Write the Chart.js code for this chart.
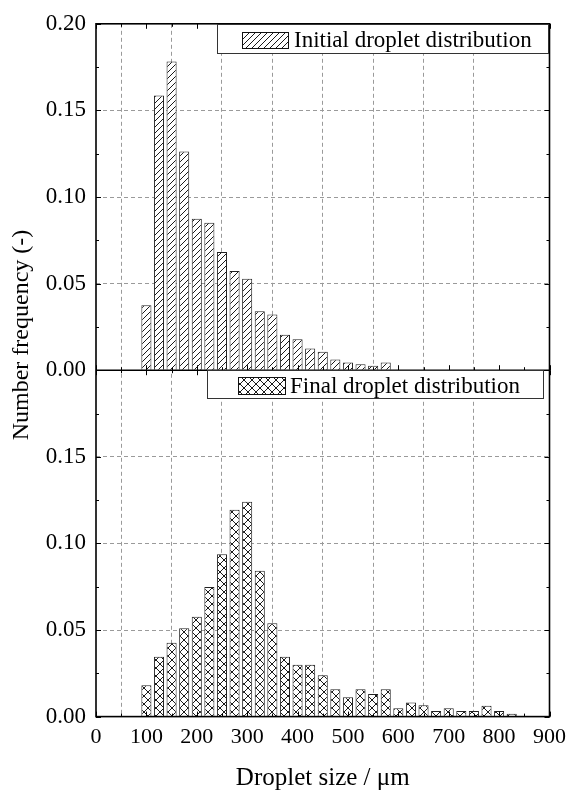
<!DOCTYPE html>
<html>
<head>
<meta charset="utf-8">
<script src="https://cdn.jsdelivr.net/npm/chart.js@4"></script>
<style>
  html, body { margin: 0; padding: 0; background: #fff; }
  #wrap { width: 573px; height: 796px; }
</style>
</head>
<body>
<div id="wrap"><canvas id="c" width="573" height="796"></canvas></div>
<script>
// ---- data ----
const initialSizes = [100, 125, 150, 175, 200, 225, 250, 275, 300, 325,
                      350, 375, 400, 425, 450, 475, 500, 525, 550, 575];
const initialFreq  = [0.0375, 0.1586, 0.1782, 0.1263, 0.0874, 0.0851, 0.0682, 0.0573, 0.0528, 0.0340,
                      0.0321, 0.0205, 0.0179, 0.0125, 0.0106, 0.0062, 0.0044, 0.0035, 0.0025, 0.0044];

const finalSizes = [100, 125, 150, 175, 200, 225, 250, 275, 300, 325,
                    350, 375, 400, 425, 450, 475, 500, 525, 550, 575,
                    600, 625, 650, 675, 700, 725, 750, 775, 800, 825];
const finalFreq  = [0.0181, 0.0346, 0.0427, 0.0510, 0.0577, 0.0748, 0.0938, 0.1194, 0.1240, 0.0842,
                    0.0539, 0.0346, 0.0300, 0.0300, 0.0239, 0.0158, 0.0111, 0.0158, 0.0130, 0.0158,
                    0.0048, 0.0081, 0.0065, 0.0033, 0.0048, 0.0033, 0.0033, 0.0063, 0.0033, 0.0016];

const xTickValues = [0, 100, 200, 300, 400, 500, 600, 700, 800, 900];
const yTickValues = [0.00, 0.05, 0.10, 0.15, 0.20];

const labelInitial = 'Initial droplet distribution';
const labelFinal = 'Final droplet distribution';
const xTitle = 'Droplet size / \u03bcm';
const yTitle = 'Number frequency (-)';

// ---- styling ----
const FONT = 'Liberation Serif, Times New Roman, serif';
const canvas = document.getElementById('c');
const ctx0 = canvas.getContext('2d');

function makePattern(kind) {
  const s = kind === 'diag' ? 6 : 8;
  const c = document.createElement('canvas');
  c.width = s; c.height = s;
  const g = c.getContext('2d');
  g.fillStyle = '#fff';
  g.fillRect(0, 0, s, s);
  g.strokeStyle = '#000';
  g.lineWidth = 0.9;
  g.beginPath();
  g.moveTo(-1, s + 1); g.lineTo(s + 1, -1);
  g.moveTo(-1, 1); g.lineTo(1, -1);
  g.moveTo(s - 1, s + 1); g.lineTo(s + 1, s - 1);
  if (kind === 'cross') {
    g.moveTo(-1, -1); g.lineTo(s + 1, s + 1);
    g.moveTo(s - 1, -1); g.lineTo(s + 1, 1);
    g.moveTo(-1, s - 1); g.lineTo(1, s + 1);
  }
  g.stroke();
  return ctx0.createPattern(c, 'repeat');
}
const patDiag = makePattern('diag');
const patCross = makePattern('cross');

const gridGrey = '#9a9a9a';
function yGridColor(c) {
  const v = c.tick ? c.tick.value : 0;
  return (Math.abs(v) < 1e-9 || Math.abs(v - 0.2) < 1e-9) ? 'rgba(0,0,0,0)' : gridGrey;
}
function xGridColor(c) {
  const v = c.tick ? c.tick.value : 0;
  return (v <= 0 || v >= 900) ? 'rgba(0,0,0,0)' : gridGrey;
}

const decor = {
  id: 'decor',
  beforeDraw(chart) {
    const ctx = chart.ctx;
    ctx.save();
    ctx.fillStyle = '#fff';
    ctx.fillRect(0, 0, chart.width, chart.height);
    ctx.restore();
  },
  afterDatasetsDraw(chart) {
    const ctx = chart.ctx;
    const {left, right, top, bottom} = chart.chartArea;
    const x = chart.scales.x, yT = chart.scales.yTop, yB = chart.scales.yBot;
    const mid = yT.getPixelForValue(0);
    ctx.save();
    // ticks (inward)
    ctx.strokeStyle = '#000';
    ctx.lineWidth = 1;
    ctx.beginPath();
    for (let i = 0; i < xTickValues.length; i++) {
      const v = xTickValues[i];
      const px = Math.round(x.getPixelForValue(v)) + 0.5;
      [[top, 1], [mid, -1], [mid, 1], [bottom, -1]].forEach(([yy, d]) => {
        ctx.moveTo(px, yy); ctx.lineTo(px, yy + d * 5);
      });
      if (i < xTickValues.length - 1) {
        const pm = Math.round(x.getPixelForValue((v + xTickValues[i + 1]) / 2)) + 0.5;
        [[top, 1], [mid, -1], [mid, 1], [bottom, -1]].forEach(([yy, d]) => {
          ctx.moveTo(pm, yy); ctx.lineTo(pm, yy + d * 3);
        });
      }
    }
    [yT, yB].forEach(sc => {
      for (let i = 0; i < yTickValues.length; i++) {
        const v = yTickValues[i];
        const py = Math.round(sc.getPixelForValue(v)) + 0.5;
        ctx.moveTo(left, py); ctx.lineTo(left + 5, py);
        ctx.moveTo(right, py); ctx.lineTo(right - 5, py);
        if (i < yTickValues.length - 1) {
          const pm = Math.round(sc.getPixelForValue((v + yTickValues[i + 1]) / 2)) + 0.5;
          ctx.moveTo(left, pm); ctx.lineTo(left + 3, pm);
          ctx.moveTo(right, pm); ctx.lineTo(right - 3, pm);
        }
      }
    });
    ctx.stroke();
    // frame
    ctx.lineWidth = 1.6;
    ctx.strokeRect(left, top, right - left, bottom - top);
    ctx.beginPath();
    ctx.moveTo(left, mid); ctx.lineTo(right, mid);
    ctx.stroke();

    // legends
    function legend(bx, by, bw, bh, sx, sy, sw, sh, tx, pat, text) {
      ctx.fillStyle = '#fff';
      ctx.fillRect(bx, by, bw, bh);
      ctx.strokeStyle = '#333';
      ctx.lineWidth = 1;
      ctx.strokeRect(bx + 0.5, by + 0.5, bw, bh);
      ctx.fillStyle = pat;
      ctx.fillRect(sx, sy, sw, sh);
      ctx.strokeStyle = '#111';
      ctx.strokeRect(sx + 0.5, sy + 0.5, sw, sh);
      ctx.fillStyle = '#000';
      ctx.font = '23px ' + FONT;
      ctx.textBaseline = 'middle';
      ctx.textAlign = 'left';
      ctx.fillText(text, tx, sy + sh / 2 + 1);
    }
    legend(217, 24, 331, 29, 242, 32, 46, 16, 294, patDiag, labelInitial);
    legend(207, 370, 336, 28, 238, 377, 47, 17, 290, patCross, labelFinal);

    // y title
    ctx.save();
    ctx.translate(22, 335);
    ctx.rotate(-Math.PI / 2);
    ctx.fillStyle = '#000';
    ctx.font = '24px ' + FONT;
    ctx.textAlign = 'center';
    ctx.textBaseline = 'middle';
    ctx.fillText(yTitle, 0, 0);
    ctx.restore();
    ctx.restore();
  }
};

const xTickFont = { family: FONT, size: 22 };
const yTickFont = { family: FONT, size: 23 };

new Chart(canvas, {
  type: 'bar',
  data: {
    datasets: [
      {
        label: labelInitial,
        data: initialSizes.map((s, i) => ({ x: s, y: initialFreq[i] })),
        yAxisID: 'yTop',
        backgroundColor: patDiag,
        borderColor: '#222',
        borderWidth: 1,
        grouped: false,
        barPercentage: 0.8,
        categoryPercentage: 1.0
      },
      {
        label: labelFinal,
        data: finalSizes.map((s, i) => ({ x: s, y: finalFreq[i] })),
        yAxisID: 'yBot',
        backgroundColor: patCross,
        borderColor: '#222',
        borderWidth: 1,
        grouped: false,
        barPercentage: 0.8,
        categoryPercentage: 1.0
      }
    ]
  },
  options: {
    responsive: false,
    animation: false,
    events: [],
    layout: { padding: { left: 0, right: 22, top: 20, bottom: 0 } },
    plugins: { legend: { display: false }, tooltip: { enabled: false } },
    scales: {
      x: {
        type: 'linear',
        min: 0, max: 900,
        offset: false,
        afterBuildTicks(s) { s.ticks = xTickValues.map(v => ({ value: v })); },
        ticks: { font: xTickFont, color: '#000', padding: 7, maxRotation: 0, autoSkip: false,
                 callback: v => String(v) },
        grid: { color: xGridColor, drawTicks: false, lineWidth: 1 },
        border: { display: false, dash: [4, 3] },
        title: { display: true, text: xTitle, color: '#000',
                 font: { family: FONT, size: 25 }, padding: { top: 6, bottom: 3 } }
      },
      yBot: {
        type: 'linear',
        position: 'left',
        stack: 'panels',
        stackWeight: 1,
        weight: 1,
        min: 0, max: 0.2,
        afterBuildTicks(s) { s.ticks = yTickValues.map(v => ({ value: v })); },
        ticks: { font: yTickFont, color: '#000', padding: 10,
                 callback: v => (Math.abs(v - 0.2) < 1e-9 ? '' : v.toFixed(2)) },
        grid: { color: yGridColor, drawTicks: false, lineWidth: 1 },
        border: { display: false, dash: [4, 3] },
        afterFit(s) { s.width = 96; }
      },
      yTop: {
        type: 'linear',
        position: 'left',
        stack: 'panels',
        stackWeight: 1,
        weight: 2,
        min: 0, max: 0.2,
        afterBuildTicks(s) { s.ticks = yTickValues.map(v => ({ value: v })); },
        ticks: { font: yTickFont, color: '#000', padding: 10,
                 callback: v => v.toFixed(2) },
        grid: { color: yGridColor, drawTicks: false, lineWidth: 1 },
        border: { display: false, dash: [4, 3] },
        afterFit(s) { s.width = 96; }
      }
    }
  },
  plugins: [decor]
});
</script>
</body>
</html>
